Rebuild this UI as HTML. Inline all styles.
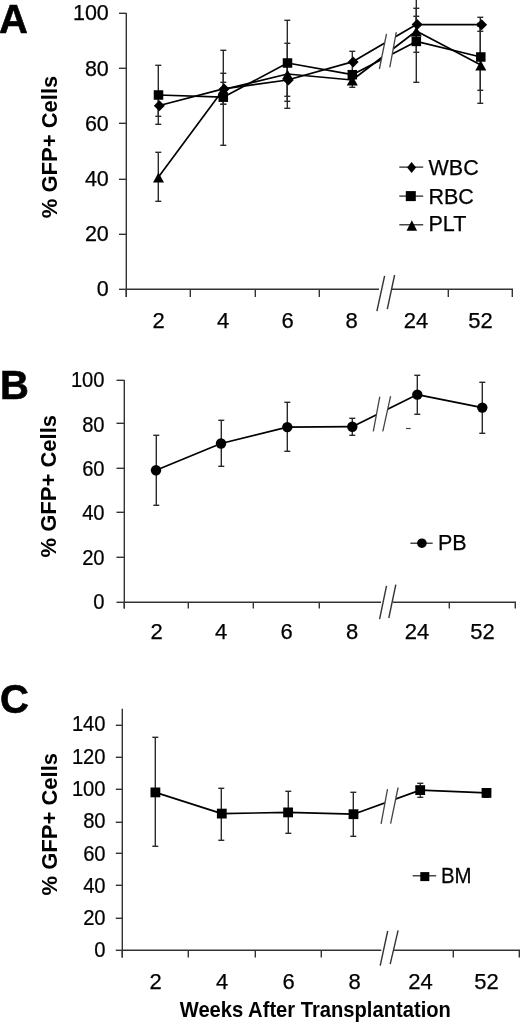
<!DOCTYPE html>
<html><head><meta charset="utf-8"><style>
html,body{margin:0;padding:0;background:#fff;}
body{width:520px;height:1022px;overflow:hidden;}
svg{display:block;font-family:"Liberation Sans", sans-serif;will-change:transform;}
text{stroke:#000;stroke-width:0.25px;}
text[font-weight=bold]{stroke-width:0;}
</style></head><body>
<svg width="520" height="1022" viewBox="0 0 520 1022" fill="#000">
<line x1="126.30" y1="13.00" x2="126.30" y2="297.00" stroke="#333" stroke-width="1.4"/>
<line x1="119.00" y1="13.30" x2="126.30" y2="13.30" stroke="#333" stroke-width="1.4"/>
<text x="108.80" y="20.10" font-size="21.5" text-anchor="end">100</text>
<line x1="119.00" y1="68.30" x2="126.30" y2="68.30" stroke="#333" stroke-width="1.4"/>
<text x="108.80" y="76.30" font-size="21.5" text-anchor="end">80</text>
<line x1="119.00" y1="123.30" x2="126.30" y2="123.30" stroke="#333" stroke-width="1.4"/>
<text x="108.80" y="130.50" font-size="21.5" text-anchor="end">60</text>
<line x1="119.00" y1="179.30" x2="126.30" y2="179.30" stroke="#333" stroke-width="1.4"/>
<text x="108.80" y="185.70" font-size="21.5" text-anchor="end">40</text>
<line x1="119.00" y1="234.30" x2="126.30" y2="234.30" stroke="#333" stroke-width="1.4"/>
<text x="108.80" y="240.90" font-size="21.5" text-anchor="end">20</text>
<line x1="119.00" y1="289.30" x2="126.30" y2="289.30" stroke="#333" stroke-width="1.4"/>
<text x="108.80" y="296.10" font-size="21.5" text-anchor="end">0</text>
<line x1="126.00" y1="289.30" x2="379.00" y2="289.30" stroke="#333" stroke-width="1.4"/>
<line x1="391.50" y1="289.30" x2="513.00" y2="289.30" stroke="#333" stroke-width="1.4"/>
<line x1="126.30" y1="289.00" x2="126.30" y2="297.00" stroke="#333" stroke-width="1.4"/>
<line x1="190.30" y1="289.00" x2="190.30" y2="297.00" stroke="#333" stroke-width="1.4"/>
<line x1="255.30" y1="289.00" x2="255.30" y2="297.00" stroke="#333" stroke-width="1.4"/>
<line x1="319.30" y1="289.00" x2="319.30" y2="297.00" stroke="#333" stroke-width="1.4"/>
<line x1="448.30" y1="289.00" x2="448.30" y2="297.00" stroke="#333" stroke-width="1.4"/>
<line x1="512.30" y1="289.00" x2="512.30" y2="297.00" stroke="#333" stroke-width="1.4"/>
<line x1="384.60" y1="275.80" x2="376.90" y2="311.20" stroke="#333" stroke-width="1.4"/>
<line x1="394.60" y1="275.00" x2="387.30" y2="309.20" stroke="#333" stroke-width="1.4"/>
<text x="158.50" y="328.00" font-size="22" text-anchor="middle">2</text>
<text x="223.00" y="328.00" font-size="22" text-anchor="middle">4</text>
<text x="287.50" y="328.00" font-size="22" text-anchor="middle">6</text>
<text x="351.50" y="328.00" font-size="22" text-anchor="middle">8</text>
<text x="416.00" y="328.00" font-size="22" text-anchor="middle">24</text>
<text x="480.50" y="328.00" font-size="22" text-anchor="middle">52</text>
<text x="57.30" y="146.95" font-size="22" text-anchor="middle" font-weight="bold" transform="rotate(-90 57.3 146.95)">% GFP+ Cells</text>
<text x="-1.00" y="33.20" font-size="40" text-anchor="start" font-weight="bold" style="stroke-width:0.6px">A</text>
<line x1="158.30" y1="65.60" x2="158.30" y2="124.40" stroke="#2a2a2a" stroke-width="1.4"/>
<line x1="155.30" y1="65.30" x2="161.30" y2="65.30" stroke="#2a2a2a" stroke-width="1.4"/>
<line x1="155.30" y1="124.30" x2="161.30" y2="124.30" stroke="#2a2a2a" stroke-width="1.4"/>
<line x1="158.30" y1="94.70" x2="158.30" y2="116.90" stroke="#2a2a2a" stroke-width="1.4"/>
<line x1="155.30" y1="94.30" x2="161.30" y2="94.30" stroke="#2a2a2a" stroke-width="1.4"/>
<line x1="155.30" y1="116.30" x2="161.30" y2="116.30" stroke="#2a2a2a" stroke-width="1.4"/>
<line x1="158.30" y1="152.50" x2="158.30" y2="201.30" stroke="#2a2a2a" stroke-width="1.4"/>
<line x1="155.30" y1="152.30" x2="161.30" y2="152.30" stroke="#2a2a2a" stroke-width="1.4"/>
<line x1="155.30" y1="201.30" x2="161.30" y2="201.30" stroke="#2a2a2a" stroke-width="1.4"/>
<line x1="223.30" y1="50.60" x2="223.30" y2="145.60" stroke="#2a2a2a" stroke-width="1.4"/>
<line x1="220.30" y1="50.30" x2="226.30" y2="50.30" stroke="#2a2a2a" stroke-width="1.4"/>
<line x1="220.30" y1="145.30" x2="226.30" y2="145.30" stroke="#2a2a2a" stroke-width="1.4"/>
<line x1="223.30" y1="73.50" x2="223.30" y2="104.10" stroke="#2a2a2a" stroke-width="1.4"/>
<line x1="220.30" y1="73.30" x2="226.30" y2="73.30" stroke="#2a2a2a" stroke-width="1.4"/>
<line x1="220.30" y1="104.30" x2="226.30" y2="104.30" stroke="#2a2a2a" stroke-width="1.4"/>
<line x1="223.30" y1="82.80" x2="223.30" y2="104.10" stroke="#2a2a2a" stroke-width="1.4"/>
<line x1="220.30" y1="82.30" x2="226.30" y2="82.30" stroke="#2a2a2a" stroke-width="1.4"/>
<line x1="220.30" y1="104.30" x2="226.30" y2="104.30" stroke="#2a2a2a" stroke-width="1.4"/>
<line x1="287.30" y1="20.30" x2="287.30" y2="108.00" stroke="#2a2a2a" stroke-width="1.4"/>
<line x1="284.30" y1="20.30" x2="290.30" y2="20.30" stroke="#2a2a2a" stroke-width="1.4"/>
<line x1="284.30" y1="108.30" x2="290.30" y2="108.30" stroke="#2a2a2a" stroke-width="1.4"/>
<line x1="287.30" y1="43.80" x2="287.30" y2="101.00" stroke="#2a2a2a" stroke-width="1.4"/>
<line x1="284.30" y1="43.30" x2="290.30" y2="43.30" stroke="#2a2a2a" stroke-width="1.4"/>
<line x1="284.30" y1="101.30" x2="290.30" y2="101.30" stroke="#2a2a2a" stroke-width="1.4"/>
<line x1="287.30" y1="63.70" x2="287.30" y2="96.30" stroke="#2a2a2a" stroke-width="1.4"/>
<line x1="284.30" y1="63.30" x2="290.30" y2="63.30" stroke="#2a2a2a" stroke-width="1.4"/>
<line x1="284.30" y1="96.30" x2="290.30" y2="96.30" stroke="#2a2a2a" stroke-width="1.4"/>
<line x1="352.30" y1="51.70" x2="352.30" y2="72.10" stroke="#2a2a2a" stroke-width="1.4"/>
<line x1="349.30" y1="51.30" x2="355.30" y2="51.30" stroke="#2a2a2a" stroke-width="1.4"/>
<line x1="349.30" y1="72.30" x2="355.30" y2="72.30" stroke="#2a2a2a" stroke-width="1.4"/>
<line x1="352.30" y1="76.70" x2="352.30" y2="87.30" stroke="#2a2a2a" stroke-width="1.4"/>
<line x1="349.30" y1="76.30" x2="355.30" y2="76.30" stroke="#2a2a2a" stroke-width="1.4"/>
<line x1="349.30" y1="87.30" x2="355.30" y2="87.30" stroke="#2a2a2a" stroke-width="1.4"/>
<line x1="416.30" y1="-1.00" x2="416.30" y2="82.70" stroke="#2a2a2a" stroke-width="1.4"/>
<line x1="413.30" y1="-0.70" x2="419.30" y2="-0.70" stroke="#2a2a2a" stroke-width="1.4"/>
<line x1="413.30" y1="82.30" x2="419.30" y2="82.30" stroke="#2a2a2a" stroke-width="1.4"/>
<line x1="416.30" y1="8.90" x2="416.30" y2="52.20" stroke="#2a2a2a" stroke-width="1.4"/>
<line x1="413.30" y1="8.30" x2="419.30" y2="8.30" stroke="#2a2a2a" stroke-width="1.4"/>
<line x1="413.30" y1="52.30" x2="419.30" y2="52.30" stroke="#2a2a2a" stroke-width="1.4"/>
<line x1="416.30" y1="16.90" x2="416.30" y2="32.30" stroke="#2a2a2a" stroke-width="1.4"/>
<line x1="413.30" y1="16.30" x2="419.30" y2="16.30" stroke="#2a2a2a" stroke-width="1.4"/>
<line x1="413.30" y1="32.30" x2="419.30" y2="32.30" stroke="#2a2a2a" stroke-width="1.4"/>
<line x1="480.30" y1="17.80" x2="480.30" y2="31.50" stroke="#2a2a2a" stroke-width="1.4"/>
<line x1="477.30" y1="17.30" x2="483.30" y2="17.30" stroke="#2a2a2a" stroke-width="1.4"/>
<line x1="477.30" y1="31.30" x2="483.30" y2="31.30" stroke="#2a2a2a" stroke-width="1.4"/>
<line x1="480.30" y1="23.30" x2="480.30" y2="90.70" stroke="#2a2a2a" stroke-width="1.4"/>
<line x1="477.30" y1="23.30" x2="483.30" y2="23.30" stroke="#2a2a2a" stroke-width="1.4"/>
<line x1="477.30" y1="90.30" x2="483.30" y2="90.30" stroke="#2a2a2a" stroke-width="1.4"/>
<line x1="480.30" y1="26.30" x2="480.30" y2="103.70" stroke="#2a2a2a" stroke-width="1.4"/>
<line x1="477.30" y1="26.30" x2="483.30" y2="26.30" stroke="#2a2a2a" stroke-width="1.4"/>
<line x1="477.30" y1="103.30" x2="483.30" y2="103.30" stroke="#2a2a2a" stroke-width="1.4"/>
<polyline points="158.50,177.00 223.30,89.50 287.50,74.00 352.30,80.00 416.30,31.00 480.80,65.00" fill="none" stroke="#000" stroke-width="1.7" stroke-linejoin="round"/>
<polyline points="158.50,95.00 223.30,97.20 287.50,63.00 352.30,74.70 416.30,41.40 480.80,57.00" fill="none" stroke="#000" stroke-width="1.7" stroke-linejoin="round"/>
<polyline points="158.50,105.80 223.30,88.90 287.50,80.00 352.30,61.90 416.30,24.60 480.80,24.70" fill="none" stroke="#000" stroke-width="1.7" stroke-linejoin="round"/>
<polygon points="386.5,33.8 396.3,32.1 389.8,67.3 379.4,69" fill="#fff"/>
<line x1="386.50" y1="33.80" x2="379.40" y2="69.00" stroke="#444" stroke-width="1.3"/>
<line x1="396.30" y1="32.10" x2="389.80" y2="67.30" stroke="#444" stroke-width="1.3"/>
<polygon points="158.50,172.50 164.00,182.50 153.00,182.50" fill="#000"/>
<polygon points="223.30,85.00 228.80,95.00 217.80,95.00" fill="#000"/>
<polygon points="287.50,69.50 293.00,79.50 282.00,79.50" fill="#000"/>
<polygon points="352.30,75.50 357.80,85.50 346.80,85.50" fill="#000"/>
<polygon points="416.30,26.50 421.80,36.50 410.80,36.50" fill="#000"/>
<polygon points="480.80,60.50 486.30,70.50 475.30,70.50" fill="#000"/>
<rect x="153.75" y="90.25" width="9.5" height="9.5" fill="#000"/>
<rect x="218.55" y="92.45" width="9.5" height="9.5" fill="#000"/>
<rect x="282.75" y="58.25" width="9.5" height="9.5" fill="#000"/>
<rect x="347.55" y="69.95" width="9.5" height="9.5" fill="#000"/>
<rect x="411.55" y="36.65" width="9.5" height="9.5" fill="#000"/>
<rect x="476.05" y="52.25" width="9.5" height="9.5" fill="#000"/>
<polygon points="159.30,100.30 164.80,105.80 159.30,111.30 153.80,105.80" fill="#000"/>
<polygon points="224.10,83.40 229.60,88.90 224.10,94.40 218.60,88.90" fill="#000"/>
<polygon points="288.30,74.50 293.80,80.00 288.30,85.50 282.80,80.00" fill="#000"/>
<polygon points="353.10,56.40 358.60,61.90 353.10,67.40 347.60,61.90" fill="#000"/>
<polygon points="417.10,19.10 422.60,24.60 417.10,30.10 411.60,24.60" fill="#000"/>
<polygon points="481.60,19.20 487.10,24.70 481.60,30.20 476.10,24.70" fill="#000"/>
<line x1="399.30" y1="167.10" x2="423.20" y2="167.10" stroke="#1a1a1a" stroke-width="1.2"/>
<polygon points="411.60,162.10 416.10,167.60 411.60,173.10 407.10,167.60" fill="#000"/>
<text x="428.50" y="174.50" font-size="21.5" text-anchor="start">WBC</text>
<line x1="399.30" y1="196.10" x2="423.20" y2="196.10" stroke="#1a1a1a" stroke-width="1.2"/>
<rect x="405.80" y="191.10" width="10" height="10" fill="#000"/>
<text x="428.50" y="203.50" font-size="21.5" text-anchor="start">RBC</text>
<line x1="399.30" y1="224.80" x2="423.20" y2="224.80" stroke="#1a1a1a" stroke-width="1.2"/>
<polygon points="411.80,220.25 417.05,230.75 406.55,230.75" fill="#000"/>
<text x="428.50" y="231.40" font-size="21.5" text-anchor="start">PLT</text>
<line x1="124.30" y1="380.00" x2="124.30" y2="608.50" stroke="#333" stroke-width="1.4"/>
<line x1="116.50" y1="380.30" x2="124.30" y2="380.30" stroke="#333" stroke-width="1.4"/>
<text x="0.00" y="0.00" font-size="21.5" text-anchor="end" transform="translate(104.6 387.10) scale(0.94 1)">100</text>
<line x1="116.50" y1="423.30" x2="124.30" y2="423.30" stroke="#333" stroke-width="1.4"/>
<text x="0.00" y="0.00" font-size="21.5" text-anchor="end" transform="translate(104.6 431.50) scale(0.94 1)">80</text>
<line x1="116.50" y1="468.30" x2="124.30" y2="468.30" stroke="#333" stroke-width="1.4"/>
<text x="0.00" y="0.00" font-size="21.5" text-anchor="end" transform="translate(104.6 475.90) scale(0.94 1)">60</text>
<line x1="116.50" y1="512.30" x2="124.30" y2="512.30" stroke="#333" stroke-width="1.4"/>
<text x="0.00" y="0.00" font-size="21.5" text-anchor="end" transform="translate(104.6 520.30) scale(0.94 1)">40</text>
<line x1="116.50" y1="557.30" x2="124.30" y2="557.30" stroke="#333" stroke-width="1.4"/>
<text x="0.00" y="0.00" font-size="21.5" text-anchor="end" transform="translate(104.6 564.70) scale(0.94 1)">20</text>
<line x1="116.50" y1="602.30" x2="124.30" y2="602.30" stroke="#333" stroke-width="1.4"/>
<text x="0.00" y="0.00" font-size="21.5" text-anchor="end" transform="translate(104.6 609.10) scale(0.94 1)">0</text>
<line x1="124.00" y1="602.30" x2="381.00" y2="602.30" stroke="#333" stroke-width="1.4"/>
<line x1="393.00" y1="602.30" x2="516.00" y2="602.30" stroke="#333" stroke-width="1.4"/>
<line x1="124.30" y1="602.00" x2="124.30" y2="608.50" stroke="#333" stroke-width="1.4"/>
<line x1="188.30" y1="602.00" x2="188.30" y2="608.50" stroke="#333" stroke-width="1.4"/>
<line x1="253.30" y1="602.00" x2="253.30" y2="608.50" stroke="#333" stroke-width="1.4"/>
<line x1="319.30" y1="602.00" x2="319.30" y2="608.50" stroke="#333" stroke-width="1.4"/>
<line x1="449.30" y1="602.00" x2="449.30" y2="608.50" stroke="#333" stroke-width="1.4"/>
<line x1="515.30" y1="602.00" x2="515.30" y2="608.50" stroke="#333" stroke-width="1.4"/>
<line x1="386.50" y1="585.80" x2="379.60" y2="619.20" stroke="#333" stroke-width="1.4"/>
<line x1="395.80" y1="584.60" x2="388.80" y2="618.00" stroke="#333" stroke-width="1.4"/>
<text x="156.50" y="639.00" font-size="22" text-anchor="middle">2</text>
<text x="221.00" y="639.00" font-size="22" text-anchor="middle">4</text>
<text x="286.50" y="639.00" font-size="22" text-anchor="middle">6</text>
<text x="352.00" y="639.00" font-size="22" text-anchor="middle">8</text>
<text x="417.00" y="639.00" font-size="22" text-anchor="middle">24</text>
<text x="482.50" y="639.00" font-size="22" text-anchor="middle">52</text>
<text x="56.30" y="486.20" font-size="22" text-anchor="middle" font-weight="bold" transform="rotate(-90 56.3 486.2)">% GFP+ Cells</text>
<text x="0.00" y="398.90" font-size="40" text-anchor="start" font-weight="bold" style="stroke-width:0.6px">B</text>
<line x1="156.30" y1="435.30" x2="156.30" y2="505.50" stroke="#2a2a2a" stroke-width="1.4"/>
<line x1="153.30" y1="435.30" x2="159.30" y2="435.30" stroke="#2a2a2a" stroke-width="1.4"/>
<line x1="153.30" y1="505.30" x2="159.30" y2="505.30" stroke="#2a2a2a" stroke-width="1.4"/>
<line x1="221.30" y1="420.50" x2="221.30" y2="466.50" stroke="#2a2a2a" stroke-width="1.4"/>
<line x1="218.30" y1="420.30" x2="224.30" y2="420.30" stroke="#2a2a2a" stroke-width="1.4"/>
<line x1="218.30" y1="466.30" x2="224.30" y2="466.30" stroke="#2a2a2a" stroke-width="1.4"/>
<line x1="287.30" y1="402.10" x2="287.30" y2="451.80" stroke="#2a2a2a" stroke-width="1.4"/>
<line x1="284.30" y1="402.30" x2="290.30" y2="402.30" stroke="#2a2a2a" stroke-width="1.4"/>
<line x1="284.30" y1="451.30" x2="290.30" y2="451.30" stroke="#2a2a2a" stroke-width="1.4"/>
<line x1="352.30" y1="418.60" x2="352.30" y2="435.20" stroke="#2a2a2a" stroke-width="1.4"/>
<line x1="349.30" y1="418.30" x2="355.30" y2="418.30" stroke="#2a2a2a" stroke-width="1.4"/>
<line x1="349.30" y1="435.30" x2="355.30" y2="435.30" stroke="#2a2a2a" stroke-width="1.4"/>
<line x1="417.30" y1="375.20" x2="417.30" y2="414.30" stroke="#2a2a2a" stroke-width="1.4"/>
<line x1="414.30" y1="375.30" x2="420.30" y2="375.30" stroke="#2a2a2a" stroke-width="1.4"/>
<line x1="414.30" y1="414.30" x2="420.30" y2="414.30" stroke="#2a2a2a" stroke-width="1.4"/>
<line x1="482.30" y1="382.90" x2="482.30" y2="433.40" stroke="#2a2a2a" stroke-width="1.4"/>
<line x1="479.30" y1="382.30" x2="485.30" y2="382.30" stroke="#2a2a2a" stroke-width="1.4"/>
<line x1="479.30" y1="433.30" x2="485.30" y2="433.30" stroke="#2a2a2a" stroke-width="1.4"/>
<polyline points="156.00,470.20 221.00,443.50 287.30,427.10 352.30,426.70 417.30,394.60 482.30,407.60" fill="none" stroke="#000" stroke-width="1.7" stroke-linejoin="round"/>
<polygon points="379.8,396.7 390.6,396.2 382.8,431.3 373.3,431.3" fill="#fff"/>
<line x1="379.80" y1="396.70" x2="373.30" y2="431.30" stroke="#444" stroke-width="1.3"/>
<line x1="390.60" y1="396.20" x2="382.80" y2="431.30" stroke="#444" stroke-width="1.3"/>
<circle cx="156.00" cy="470.20" r="5.2" fill="#000"/>
<circle cx="221.00" cy="443.50" r="5.2" fill="#000"/>
<circle cx="287.30" cy="427.10" r="5.2" fill="#000"/>
<circle cx="352.30" cy="426.70" r="5.2" fill="#000"/>
<circle cx="417.30" cy="394.60" r="5.2" fill="#000"/>
<circle cx="482.30" cy="407.60" r="5.2" fill="#000"/>
<line x1="406.00" y1="428.50" x2="410.70" y2="428.50" stroke="#444" stroke-width="1.2"/>
<line x1="410.40" y1="543.20" x2="432.70" y2="543.20" stroke="#1a1a1a" stroke-width="1.2"/>
<circle cx="421.90" cy="543.20" r="4.8" fill="#000"/>
<text x="437.90" y="550.40" font-size="21.5" text-anchor="start">PB</text>
<line x1="122.30" y1="708.75" x2="122.30" y2="957.40" stroke="#333" stroke-width="1.4"/>
<line x1="115.80" y1="725.30" x2="122.30" y2="725.30" stroke="#333" stroke-width="1.4"/>
<text x="0.00" y="0.00" font-size="21.5" text-anchor="end" transform="translate(105.6 731.10) scale(0.94 1)">140</text>
<line x1="115.80" y1="757.30" x2="122.30" y2="757.30" stroke="#333" stroke-width="1.4"/>
<text x="0.00" y="0.00" font-size="21.5" text-anchor="end" transform="translate(105.6 764.00) scale(0.94 1)">120</text>
<line x1="115.80" y1="789.30" x2="122.30" y2="789.30" stroke="#333" stroke-width="1.4"/>
<text x="0.00" y="0.00" font-size="21.5" text-anchor="end" transform="translate(105.6 796.30) scale(0.94 1)">100</text>
<line x1="115.80" y1="822.30" x2="122.30" y2="822.30" stroke="#333" stroke-width="1.4"/>
<text x="0.00" y="0.00" font-size="21.5" text-anchor="end" transform="translate(105.6 827.60) scale(0.94 1)">80</text>
<line x1="115.80" y1="853.30" x2="122.30" y2="853.30" stroke="#333" stroke-width="1.4"/>
<text x="0.00" y="0.00" font-size="21.5" text-anchor="end" transform="translate(105.6 861.20) scale(0.94 1)">60</text>
<line x1="115.80" y1="885.30" x2="122.30" y2="885.30" stroke="#333" stroke-width="1.4"/>
<text x="0.00" y="0.00" font-size="21.5" text-anchor="end" transform="translate(105.6 893.30) scale(0.94 1)">40</text>
<line x1="115.80" y1="918.30" x2="122.30" y2="918.30" stroke="#333" stroke-width="1.4"/>
<text x="0.00" y="0.00" font-size="21.5" text-anchor="end" transform="translate(105.6 925.30) scale(0.94 1)">20</text>
<line x1="115.80" y1="950.30" x2="122.30" y2="950.30" stroke="#333" stroke-width="1.4"/>
<text x="0.00" y="0.00" font-size="21.5" text-anchor="end" transform="translate(105.6 957.10) scale(0.94 1)">0</text>
<line x1="122.00" y1="950.30" x2="381.30" y2="950.30" stroke="#333" stroke-width="1.4"/>
<line x1="393.50" y1="950.30" x2="520.00" y2="950.30" stroke="#333" stroke-width="1.4"/>
<line x1="122.30" y1="950.00" x2="122.30" y2="957.40" stroke="#333" stroke-width="1.4"/>
<line x1="188.30" y1="950.00" x2="188.30" y2="957.40" stroke="#333" stroke-width="1.4"/>
<line x1="255.30" y1="950.00" x2="255.30" y2="957.40" stroke="#333" stroke-width="1.4"/>
<line x1="321.30" y1="950.00" x2="321.30" y2="957.40" stroke="#333" stroke-width="1.4"/>
<line x1="453.30" y1="950.00" x2="453.30" y2="957.40" stroke="#333" stroke-width="1.4"/>
<line x1="519.30" y1="950.00" x2="519.30" y2="957.40" stroke="#333" stroke-width="1.4"/>
<line x1="387.70" y1="931.00" x2="380.20" y2="965.60" stroke="#333" stroke-width="1.4"/>
<line x1="398.10" y1="930.40" x2="390.20" y2="964.20" stroke="#333" stroke-width="1.4"/>
<text x="155.50" y="989.00" font-size="22" text-anchor="middle">2</text>
<text x="222.00" y="989.00" font-size="22" text-anchor="middle">4</text>
<text x="288.50" y="989.00" font-size="22" text-anchor="middle">6</text>
<text x="354.50" y="989.00" font-size="22" text-anchor="middle">8</text>
<text x="420.50" y="989.00" font-size="22" text-anchor="middle">24</text>
<text x="486.50" y="989.00" font-size="22" text-anchor="middle">52</text>
<text x="57.40" y="824.25" font-size="22" text-anchor="middle" font-weight="bold" transform="rotate(-90 57.4 824.25)">% GFP+ Cells</text>
<text x="0.00" y="713.30" font-size="40" text-anchor="start" font-weight="bold" style="stroke-width:0.6px">C</text>
<line x1="155.30" y1="737.90" x2="155.30" y2="846.40" stroke="#2a2a2a" stroke-width="1.4"/>
<line x1="152.30" y1="737.30" x2="158.30" y2="737.30" stroke="#2a2a2a" stroke-width="1.4"/>
<line x1="152.30" y1="846.30" x2="158.30" y2="846.30" stroke="#2a2a2a" stroke-width="1.4"/>
<line x1="221.30" y1="788.40" x2="221.30" y2="840.50" stroke="#2a2a2a" stroke-width="1.4"/>
<line x1="218.30" y1="788.30" x2="224.30" y2="788.30" stroke="#2a2a2a" stroke-width="1.4"/>
<line x1="218.30" y1="840.30" x2="224.30" y2="840.30" stroke="#2a2a2a" stroke-width="1.4"/>
<line x1="288.30" y1="791.90" x2="288.30" y2="833.80" stroke="#2a2a2a" stroke-width="1.4"/>
<line x1="285.30" y1="791.30" x2="291.30" y2="791.30" stroke="#2a2a2a" stroke-width="1.4"/>
<line x1="285.30" y1="833.30" x2="291.30" y2="833.30" stroke="#2a2a2a" stroke-width="1.4"/>
<line x1="353.30" y1="792.70" x2="353.30" y2="836.30" stroke="#2a2a2a" stroke-width="1.4"/>
<line x1="350.30" y1="792.30" x2="356.30" y2="792.30" stroke="#2a2a2a" stroke-width="1.4"/>
<line x1="350.30" y1="836.30" x2="356.30" y2="836.30" stroke="#2a2a2a" stroke-width="1.4"/>
<line x1="420.30" y1="783.20" x2="420.30" y2="797.10" stroke="#2a2a2a" stroke-width="1.4"/>
<line x1="417.30" y1="783.30" x2="423.30" y2="783.30" stroke="#2a2a2a" stroke-width="1.4"/>
<line x1="417.30" y1="797.30" x2="423.30" y2="797.30" stroke="#2a2a2a" stroke-width="1.4"/>
<line x1="486.30" y1="789.00" x2="486.30" y2="797.00" stroke="#2a2a2a" stroke-width="1.4"/>
<line x1="483.30" y1="789.30" x2="489.30" y2="789.30" stroke="#2a2a2a" stroke-width="1.4"/>
<line x1="483.30" y1="797.30" x2="489.30" y2="797.30" stroke="#2a2a2a" stroke-width="1.4"/>
<polyline points="155.40,792.40 221.80,813.60 288.10,812.40 353.50,814.20 420.20,790.10 486.50,792.90" fill="none" stroke="#000" stroke-width="1.7" stroke-linejoin="round"/>
<polygon points="387.5,789.2 398.1,787.5 390.6,823.6 381.1,823.8" fill="#fff"/>
<line x1="387.50" y1="789.20" x2="381.10" y2="823.80" stroke="#444" stroke-width="1.3"/>
<line x1="398.10" y1="787.50" x2="390.60" y2="823.60" stroke="#444" stroke-width="1.3"/>
<rect x="150.50" y="787.50" width="9.8" height="9.8" fill="#000"/>
<rect x="216.90" y="808.70" width="9.8" height="9.8" fill="#000"/>
<rect x="283.20" y="807.50" width="9.8" height="9.8" fill="#000"/>
<rect x="348.60" y="809.30" width="9.8" height="9.8" fill="#000"/>
<rect x="415.30" y="785.20" width="9.8" height="9.8" fill="#000"/>
<rect x="481.60" y="788.00" width="9.8" height="9.8" fill="#000"/>
<line x1="412.70" y1="875.80" x2="436.20" y2="875.80" stroke="#1a1a1a" stroke-width="1.2"/>
<rect x="420.30" y="872.10" width="9" height="9" fill="#000"/>
<text x="0.00" y="0.00" font-size="21.5" text-anchor="start" transform="translate(441 883.4) scale(0.95 1)">BM</text>
<text x="0.00" y="0.00" font-size="22" text-anchor="middle" font-weight="bold" transform="translate(315.3 1017) scale(0.917 1)">Weeks After Transplantation</text>
</svg>
</body></html>
